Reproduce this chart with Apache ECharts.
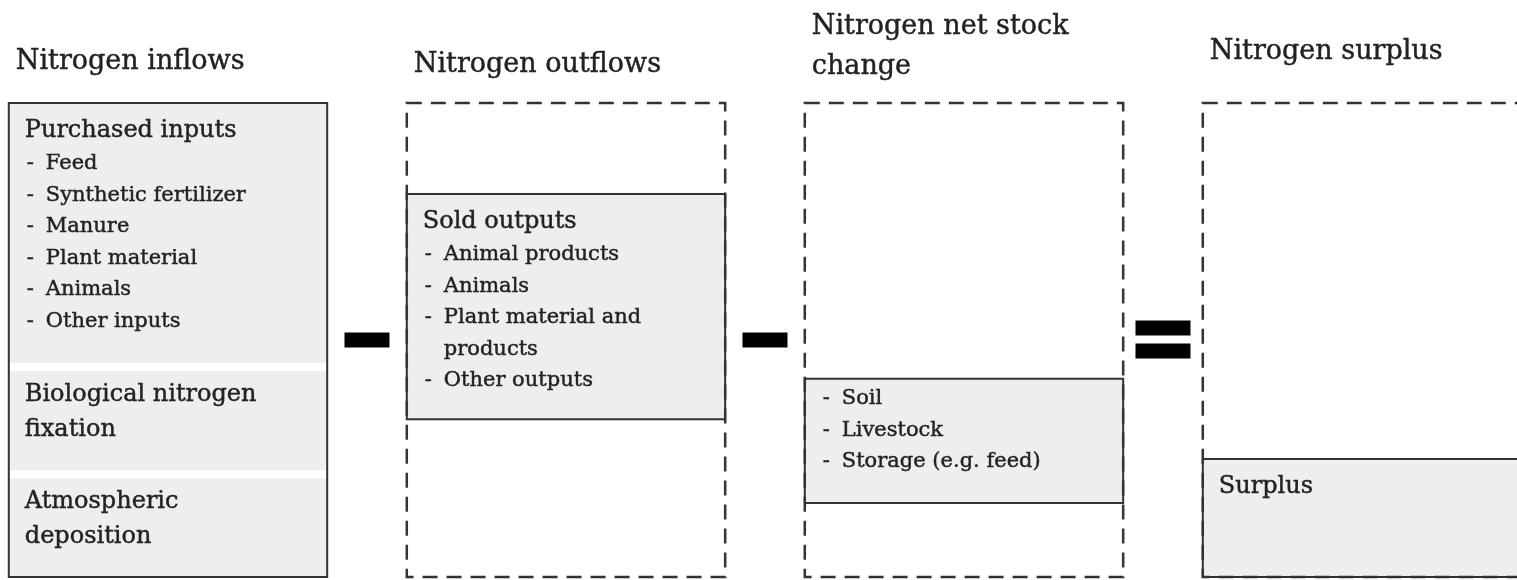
<!DOCTYPE html>
<html>
<head>
<meta charset="utf-8">
<style>
  html, body { margin: 0; padding: 0; background: #fff; }
  #chart { width: 1517px; height: 580px; }
</style>
<script src="https://cdn.jsdelivr.net/npm/echarts@6/dist/echarts.min.js"></script>
</head>
<body>
<div id="chart"></div>
<script>
// --- DATA ---
const columnTitles = ['Nitrogen inflows', 'Nitrogen outflows', 'Nitrogen net stock\nchange', 'Nitrogen surplus'];
const columnDashed = [false, true, true, true];

// each box segment: which column, top and bottom on the 0-100 scale
const segColumn = [0, 0, 0, 1, 2, 3];
const segTop = [100, 44.3, 21.7, 80.8, 41.8, 24.9];
const segBottom = [44.3, 21.7, 0, 33.3, 15.6, 0];
const segHeading = ['Purchased inputs', 'Biological nitrogen\nfixation', 'Atmospheric\ndeposition', 'Sold outputs', '', 'Surplus'];
const segItems = [
    ['Feed', 'Synthetic fertilizer', 'Manure', 'Plant material', 'Animals', 'Other inputs'],
    [],
    [],
    ['Animal products', 'Animals', 'Plant material and\nproducts', 'Other outputs'],
    ['Soil', 'Livestock', 'Storage (e.g. feed)'],
    []
];

// operators sit between the columns
const operators = ['minus', 'minus', 'equals'];

// --- STYLE ---
const FONT = 'DejaVu Serif';
const INK = '#222222';
const LINE = '#333333';
const BOX_FILL = '#eeeeee';
const BOX_UNITS = 0.8;          // box width as share of column spacing
const titleShift = [3, 0, -2, 13];

const chart = echarts.init(document.getElementById('chart'));

function txt(text, x, y, size) {
    return {
        type: 'text',
        style: {
            text, x, y, fill: INK, stroke: INK, lineWidth: 0.45,
            fontFamily: FONT, fontSize: size, textAlign: 'left', verticalAlign: 'middle'
        }
    };
}

function renderFrame(params, api) {
    const i = api.value(0);
    const top = api.coord([i, 100]);
    const bot = api.coord([i, 0]);
    const w = api.size([BOX_UNITS, 0])[0];
    const x0 = top[0] - w / 2;
    const dashed = columnDashed[i];
    const children = [{
        type: 'rect',
        shape: { x: x0, y: top[1], width: w, height: bot[1] - top[1] },
        style: { fill: null, stroke: LINE, lineWidth: dashed ? 2.5 : 2, lineDash: dashed ? [15, 9] : null }
    }];
    const lines = columnTitles[i].split('\n');
    lines.forEach((t, k) => {
        children.push(txt(t, x0 + 7, top[1] - 38 - (lines.length - 1 - k) * 40 - titleShift[i], 27));
    });
    return { type: 'group', children };
}

function renderSegment(params, api) {
    const idx = params.dataIndex;
    const col = api.value(0);
    const top = api.coord([col, api.value(1)]);
    const bot = api.coord([col, api.value(2)]);
    const w = api.size([BOX_UNITS, 0])[0];
    const x0 = top[0] - w / 2;
    const children = [];

    if (col === 0) {
        // stacked parts of the inflow box, split by white gaps
        const gapTop = api.value(1) < 100 ? 4 : 0;
        const gapBot = api.value(2) > 0 ? 4 : 0;
        children.push({
            type: 'rect',
            shape: { x: x0, y: top[1] + gapTop, width: w, height: bot[1] - top[1] - gapTop - gapBot },
            style: { fill: BOX_FILL }
        });
    } else {
        children.push({
            type: 'rect',
            shape: { x: x0, y: top[1], width: w, height: bot[1] - top[1] },
            style: { fill: BOX_FILL, stroke: LINE, lineWidth: 2 }
        });
    }

    let y = top[1] + 28;
    if (segHeading[idx]) {
        const hl = segHeading[idx].split('\n');
        hl.forEach((t, k) => children.push(txt(t, x0 + 16, y + k * 35, 24)));
        y += (hl.length - 1) * 35 + 33;
    } else {
        y = top[1] + 20;
    }
    segItems[idx].forEach(item => {
        item.split('\n').forEach((t, k) => {
            if (k === 0) children.push(txt('-', x0 + 18, y, 21));
            children.push(txt(t, x0 + 37, y, 21));
            y += 31.5;
        });
    });
    return { type: 'group', children };
}

function renderOperator(params, api) {
    const c = api.coord([api.value(0), api.value(1)]);
    const kind = operators[params.dataIndex];
    const rect = (w, h, dy) => ({
        type: 'rect',
        shape: { x: c[0] - w / 2, y: c[1] + dy - h / 2, width: w, height: h },
        style: { fill: '#000' }
    });
    const children = kind === 'equals'
        ? [rect(55, 15, -12), rect(55, 15, 11)]
        : [rect(45, 15, 0)];
    return { type: 'group', children };
}

chart.setOption({
    animation: false,
    backgroundColor: '#fff',
    grid: { left: 0, right: 0, top: 103, bottom: 3 },
    xAxis: { type: 'value', min: -0.4221, max: 3.3895, show: false },
    yAxis: { type: 'value', min: 0, max: 100, show: false },
    series: [
        {
            type: 'custom', silent: true, z: 1,
            renderItem: renderSegment,
            data: segColumn.map((c, i) => [c, segTop[i], segBottom[i]])
        },
        {
            type: 'custom', silent: true, z: 2,
            renderItem: renderFrame,
            data: columnTitles.map((t, i) => [i])
        },
        {
            type: 'custom', silent: true, z: 3,
            renderItem: renderOperator,
            data: operators.map((o, i) => [i + 0.5, 50])
        }
    ]
});
</script>
</body>
</html>
